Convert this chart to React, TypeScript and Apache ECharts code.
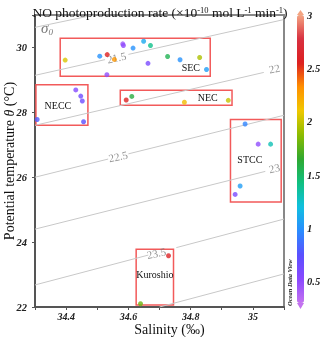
import React, { useEffect, useRef } from 'react';
import * as echarts from 'echarts';

const SERIF = 'Liberation Serif, serif';

// Stations: salinity (‰), potential temperature (°C), NO photoproduction rate
const salinity = [
  34.397, 34.508, 34.532, 34.555, 34.582, 34.584, 34.615, 34.649, 34.671, 34.663, 34.531, 34.726, 34.766, 34.829, 34.851,
  34.307, 34.431, 34.447, 34.452, 34.456,
  34.593, 34.611, 34.780, 34.921,
  34.975, 35.017, 35.057, 34.959, 34.943,
  34.729, 34.639,
];
const temperature = [
  29.61, 29.73, 29.78, 29.63, 30.11, 30.06, 29.98, 30.19, 30.06, 29.51, 29.16, 29.72, 29.62, 29.69, 29.32,
  27.78, 28.69, 28.50, 28.35, 27.71,
  28.38, 28.49, 28.31, 28.37,
  27.64, 27.02, 27.02, 25.73, 25.47,
  23.58, 22.10,
];
const noRate = [
  2.05, 1.0, 2.55, 2.3, 0.45, 0.5, 1.0, 1.1, 1.4, 0.6, 0.5, 1.55, 1.0, 1.95, 1.05,
  0.8, 0.55, 0.65, 0.65, 0.75,
  2.55, 1.6, 2.15, 2.0,
  0.95, 0.5, 1.3, 1.05, 0.6,
  2.6, 1.8,
];

// Water-mass boxes
const boxNames = ['SEC', 'NECC', 'NEC', 'STCC', 'Kuroshio'];
const boxSalMin = [34.381, 34.303, 34.574, 34.928, 34.625];
const boxSalMax = [34.863, 34.47, 34.933, 35.091, 34.745];
const boxTempMin = [29.11, 27.6, 28.22, 25.24, 22.06];
const boxTempMax = [30.28, 28.85, 28.68, 27.78, 23.78];

// sigma-0 isopycnal segments (broken where labelled)
const sigmaSegments = [
  [[34.3, 30.62], [34.49, 31.0]],
  [[34.3, 29.14], [34.525, 29.624]],
  [[34.6, 29.785], [35.1, 30.86]],
  [[34.3, 27.6], [35.035, 29.23]],
  [[34.3, 26.0], [34.535, 26.56]],
  [[34.6, 26.72], [35.1, 27.91]],
  [[34.3, 24.4], [35.04, 26.18]],
  [[34.3, 22.68], [34.664, 23.6]],
  [[34.754, 23.83], [35.1, 24.71]],
  [[34.7, 22.0], [35.1, 23.02]],
];
const sigmaLabels = ['21.5', '22', '22.5', '23', '23.5'];
const sigmaLabelSal = [34.562, 35.069, 34.567, 35.069, 34.69];
const sigmaLabelTemp = [29.69, 29.35, 26.64, 26.28, 23.66];

const rateTicks = [0.5, 1, 1.5, 2, 2.5, 3];

export default function App() {
  const ref = useRef<HTMLDivElement>(null);
  useEffect(() => {
    if (!ref.current) return;
    const chart = echarts.init(ref.current, undefined, { renderer: 'svg' });
    const pts = salinity.map((s, i) => [s, temperature[i], noRate[i]]);
    const boxPositions: any[] = [
      { position: 'insideBottomRight', offset: [-6, 0] },
      { position: 'inside', offset: [-4, 0] },
      { position: 'insideRight', offset: [-10, 0] },
      { position: 'inside', offset: [-6, -1] },
      { position: 'inside', offset: [0, -3] },
    ];
    const markData = boxNames.map((n, i) => [
      {
        name: n,
        coord: [boxSalMin[i], boxTempMax[i]],
        label: {
          show: true,
          ...boxPositions[i],
          color: '#111',
          fontFamily: SERIF,
          fontSize: 10,
        },
      },
      { coord: [boxSalMax[i], boxTempMin[i]] },
    ]);
    const series: any[] = [
      {
        type: 'scatter',
        data: pts,
        symbolSize: 5,
        z: 5,
      },
      {
        type: 'scatter',
        data: [],
        markArea: {
          silent: true,
          itemStyle: { color: 'rgba(0,0,0,0)', borderColor: '#f25a5a', borderWidth: 1.5 },
          data: markData,
        },
        z: 3,
      },
    ];
    sigmaSegments.forEach((seg) => {
      series.push({
        type: 'line',
        data: seg,
        showSymbol: false,
        symbol: 'none',
        lineStyle: { color: '#c8c8c8', width: 1 },
        silent: true,
        z: 1,
      });
    });
    series.push({
      type: 'scatter',
      data: sigmaLabels.map((l, i) => ({ value: [sigmaLabelSal[i], sigmaLabelTemp[i]], name: l })),
      symbolSize: 0,
      label: {
        show: true,
        position: 'inside',
        formatter: (p: any) => p.name,
        color: '#777',
        fontFamily: SERIF,
        fontSize: 11,
        rotate: 12,
      },
      z: 4,
    });

    chart.setOption({
      animation: false,
      title: {
        text: 'NO photoproduction rate (×10{s|-10} mol L{s|-1} min{s|-1})',
        left: 'center',
        top: 0,
        textStyle: {
          fontFamily: SERIF,
          fontSize: 13.5,
          fontWeight: 'normal',
          color: '#111',
          rich: { s: { fontSize: 8.5, verticalAlign: 'top', fontFamily: SERIF, color: '#111' } },
        },
      },
      grid: [
        { left: 35, right: 36, top: 15, bottom: 30, show: true, borderColor: '#888', borderWidth: 2, containLabel: false, outerBoundsMode: 'none' },
        { left: 297, width: 7, top: 15, height: 288, show: false, containLabel: false, outerBoundsMode: 'none' },
      ],
      xAxis: [
        {
          type: 'value',
          gridIndex: 0,
          min: 34.3,
          max: 35.1,
          interval: 0.1,
          name: 'Salinity (‰)',
          nameLocation: 'middle',
          nameGap: 15,
          nameMoveOverlap: false,
          nameTextStyle: { fontFamily: SERIF, fontSize: 14, lineHeight: 14, color: '#111', padding: [0, 0, 0, 20] },
          axisLine: { lineStyle: { color: '#555', width: 2 } },
          axisTick: { show: true, length: 3, lineStyle: { color: '#555' } },
          splitLine: { show: false },
          axisLabel: {
            margin: 4,
            fontFamily: SERIF,
            fontStyle: 'italic',
            fontWeight: 'bold',
            fontSize: 10,
            lineHeight: 10,
            color: '#222',
            formatter: (v: number) => {
              const t = Math.round(v * 10);
              if (t % 2 !== 0) return '';
              return String(Math.round(v * 10) / 10);
            },
          },
        },
        { type: 'value', gridIndex: 1, show: false, min: 0, max: 1 },
      ],
      yAxis: [
        {
          type: 'value',
          gridIndex: 0,
          min: 22,
          max: 31,
          interval: 2,
          name: 'Potential temperature {i|θ} (°C)',
          nameLocation: 'middle',
          nameGap: 19,
          nameMoveOverlap: false,
          nameTextStyle: {
            fontFamily: SERIF,
            fontSize: 14,
            color: '#111',
            rich: { i: { fontFamily: SERIF, fontSize: 14, fontStyle: 'italic', color: '#111' } },
          },
          axisLine: { lineStyle: { color: '#555', width: 2 } },
          axisTick: { show: true, length: 3, lineStyle: { color: '#555' } },
          splitLine: { show: false },
          axisLabel: {
            margin: 8,
            fontFamily: SERIF,
            fontStyle: 'italic',
            fontWeight: 'bold',
            fontSize: 10.5,
            color: '#222',
            formatter: (v: number) => (Math.round(v) % 2 === 0 ? String(Math.round(v)) : ''),
          },
        },
        {
          type: 'value',
          gridIndex: 1,
          min: 0.3,
          max: 3,
          interval: 0.1,
          position: 'right',
          axisLine: { show: false },
          axisTick: { show: false },
          splitLine: { show: false },
          axisLabel: {
            margin: 3,
            fontFamily: SERIF,
            fontStyle: 'italic',
            fontWeight: 'bold',
            fontSize: 10.5,
            color: '#222',
            formatter: (v: number) => {
              const r = Math.round(v * 10) / 10;
              return rateTicks.some((t) => Math.abs(t - r) < 1e-6) ? String(r) : '';
            },
          },
        },
      ],
      visualMap: {
        type: 'continuous',
        seriesIndex: 0,
        dimension: 2,
        min: 0.3,
        max: 3,
        calculable: false,
        orient: 'vertical',
        left: 297,
        top: 15,
        itemWidth: 7,
        itemHeight: 288,
        padding: 0,
        textGap: 0,
        inRange: {
          color: [
            '#c472f0', '#8a48ff', '#5a50ff', '#2a8cff', '#10c0e0', '#10c080', '#30a830',
            '#8cbc00', '#f0c800', '#ff9000', '#dd2020', '#d83040', '#f4a582',
          ],
        },
      },
      graphic: [
        { type: 'polygon', shape: { points: [[297, 15], [304, 15], [300.5, 10]] }, style: { fill: '#f4a582' } },
        { type: 'polygon', shape: { points: [[297, 303], [304, 303], [300.5, 309]] }, style: { fill: '#c472f0' } },
        {
          type: 'text',
          x: 41,
          y: 19,
          style: {
            text: '{a|σ}{b|0}',
            rich: {
              a: { fontFamily: SERIF, fontSize: 15, fontStyle: 'italic', fill: '#777' },
              b: { fontFamily: SERIF, fontSize: 9, fontStyle: 'italic', fill: '#777', padding: [8, 0, 0, 0] },
            },
          },
        },
        {
          type: 'text',
          x: 289,
          y: 306,
          rotation: Math.PI / 2,
          style: {
            text: 'Ocean Data View',
            fontFamily: SERIF,
            fontSize: 6.5,
            fontStyle: 'italic',
            fontWeight: 'bold',
            fill: '#222',
            align: 'left',
            verticalAlign: 'middle',
          },
        },
      ],
      series,
    });
    return () => chart.dispose();
  }, []);
  return <div ref={ref} style={{ position: 'fixed', left: 0, top: 0, width: 320, height: 337 }} />;
}
